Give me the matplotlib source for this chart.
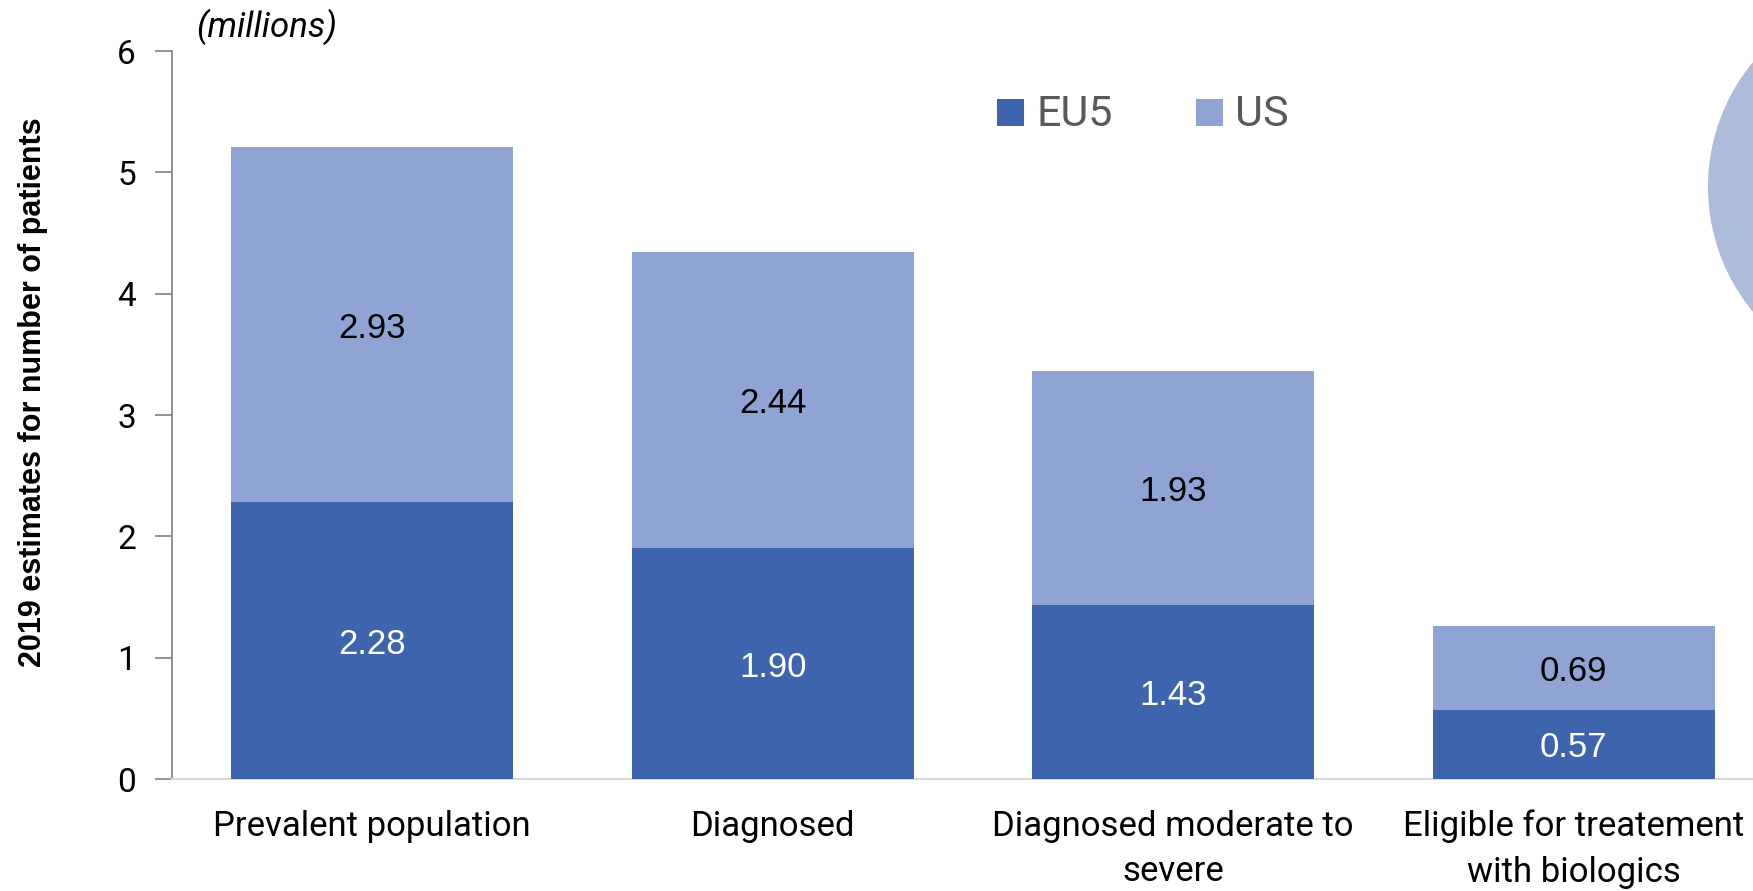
import matplotlib
matplotlib.use("Agg")
import matplotlib.pyplot as plt
from matplotlib.patches import Circle, Rectangle

categories = ["Prevalent population", "Diagnosed", "Diagnosed moderate to\nsevere",
              "Eligible for treatement\nwith biologics"]
eu5 = [2.28, 1.90, 1.43, 0.57]
us = [2.93, 2.44, 1.93, 0.69]
yticks = [0, 1, 2, 3, 4, 5, 6]

C_EU5 = "#3D64AC"
C_US = "#8FA3D4"

W, H = 1753, 891
fig = plt.figure(figsize=(W / 100, H / 100), dpi=100)

# decorative circle at the right edge (inch coordinates keep it round)
fig.patches.append(Circle((19.04, (H - 187) / 100), 1.96, transform=fig.dpi_scale_trans,
                          facecolor="#ADBCD9", edgecolor="none", zorder=0))

ax = fig.add_axes([172 / W, 1 - 779 / H, 1 - 172 / W, (779 - 51) / H])
ax.patch.set_alpha(0)
x = list(range(len(categories)))
ax.bar(x, eu5, width=0.705, color=C_EU5, zorder=3)
ax.bar(x, us, width=0.705, bottom=eu5, color=C_US, zorder=3)

for i in x:
    ax.text(i, eu5[i] / 2, f"{eu5[i]:.2f}", ha="center", va="center_baseline", color="white",
            fontsize=25, family="Liberation Sans", zorder=4)
    ax.text(i, eu5[i] + us[i] / 2, f"{us[i]:.2f}", ha="center", va="center_baseline",
            color="black", fontsize=25, family="Liberation Sans", zorder=4)

ax.set_xlim(-0.5, -0.5 + (W - 172) / 400.5)
ax.set_ylim(0, 6)
ax.set_yticks(yticks)
ax.set_yticklabels([str(t) for t in yticks], fontsize=24, family="Roboto")
ax.set_xticks(x)
ax.set_xticklabels(categories, fontsize=25, family="Roboto", linespacing=1.48)
ax.tick_params(axis="x", length=0, pad=22)
ax.tick_params(axis="y", length=12, width=1.2, color="#808080", pad=14)
for s in ["top", "right"]:
    ax.spines[s].set_visible(False)
ax.spines["left"].set_color("#808080")
ax.spines["left"].set_linewidth(1.2)
ax.spines["bottom"].set_color("#D9D9D9")
ax.spines["bottom"].set_linewidth(1.5)

fig.text(33 / W, 1 - 392 / H, "2019 estimates for number of patients", rotation=90,
         ha="center", va="center", fontsize=22, fontweight="bold", family="Liberation Sans")
fig.text(196 / W, 1 - 27 / H, "(millions)", ha="left", va="center", fontsize=25,
         style="italic", family="Roboto")

# legend
for (x0, lbl, col, tx) in [(997, "EU5", C_EU5, 1036), (1196, "US", C_US, 1235)]:
    fig.patches.append(Rectangle((x0 / W, 1 - 126 / H), 27 / W, 27 / H,
                                 transform=fig.transFigure, facecolor=col, edgecolor="none"))
    fig.text(tx / W, 1 - 114 / H, lbl, ha="left", va="center", fontsize=31,
             color="#595959", family="Roboto")

fig.savefig("out.png", dpi=100)
